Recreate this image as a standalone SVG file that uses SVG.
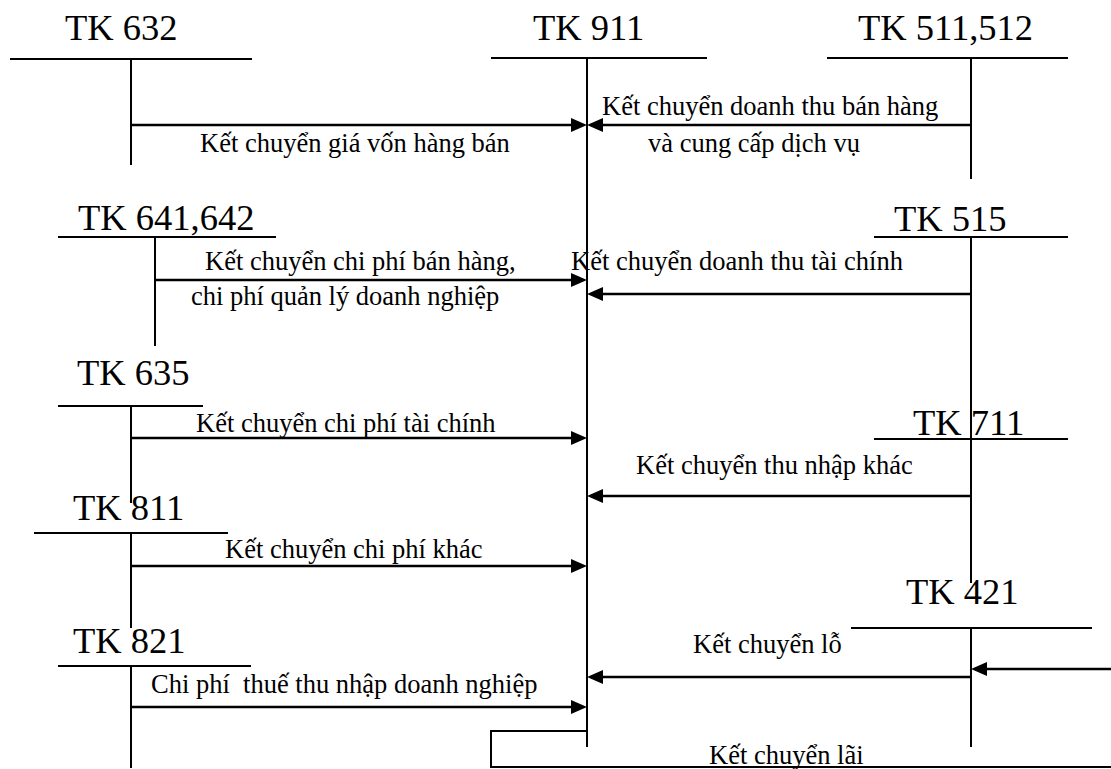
<svg xmlns="http://www.w3.org/2000/svg" width="1111" height="769" viewBox="0 0 1111 769">
<defs>
<style>
.acc{stroke:#000;stroke-width:2;fill:none}
.arr{stroke:#000;stroke-width:2.5;fill:none}
.t1{font-family:"Liberation Serif","Times New Roman",serif;font-size:36.5px;fill:#000}
.t2{font-family:"Liberation Serif","Times New Roman",serif;font-size:26.5px;fill:#000;white-space:pre}
</style>
<marker id="ah" markerUnits="userSpaceOnUse" markerWidth="16" markerHeight="14" refX="2" refY="7" orient="auto">
<path d="M0,0 L16,7 L0,14 z" fill="#000"/>
</marker>
</defs>
<rect x="0" y="0" width="1111" height="769" fill="#fff"/>
<g id="tk632">
<text class="t1" x="65" y="40">TK 632</text>
<path class="acc" d="M10,59 H252 M131,59 V165"/>
</g>
<g id="tk911">
<text class="t1" x="533" y="40">TK 911</text>
<path class="acc" d="M491,58 H707 M587,58 V747"/>
</g>
<g id="tk511">
<text class="t1" x="858" y="40">TK 511,512</text>
<path class="acc" d="M827,58 H1068 M971,58 V179"/>
</g>
<g id="tk641">
<text class="t1" x="78" y="230">TK 641,642</text>
<path class="acc" d="M58,237 H276 M155,237 V346"/>
</g>
<g id="tk515">
<text class="t1" x="894" y="231">TK 515</text>
<path class="acc" d="M874,237 H1068 M971,237 V439"/>
</g>
<g id="tk635">
<text class="t1" x="77" y="385">TK 635</text>
<path class="acc" d="M58,406 H203 M131,406 V503"/>
</g>
<g id="tk711">
<text class="t1" x="913" y="435">TK 711</text>
<path class="acc" d="M874,439 H1068 M971,439 V583"/>
</g>
<g id="tk811">
<text class="t1" x="73" y="520">TK 811</text>
<path class="acc" d="M34,533 H228 M131,533 V628"/>
</g>
<g id="tk821">
<text class="t1" x="73" y="653">TK 821</text>
<path class="acc" d="M58,666 H251 M131,666 V768"/>
</g>
<g id="tk421">
<text class="t1" x="906" y="604">TK 421</text>
<path class="acc" d="M851,628 H1092 M971,628 V747"/>
</g>
<g id="connectors">
<line class="arr" x1="131" y1="125" x2="573" y2="125" marker-end="url(#ah)"/>
<line class="arr" x1="971" y1="125" x2="601" y2="125" marker-end="url(#ah)"/>
<line class="arr" x1="155" y1="280" x2="573" y2="280" marker-end="url(#ah)"/>
<line class="arr" x1="971" y1="294" x2="601" y2="294" marker-end="url(#ah)"/>
<line class="arr" x1="131" y1="438" x2="573" y2="438" marker-end="url(#ah)"/>
<line class="arr" x1="971" y1="496" x2="601" y2="496" marker-end="url(#ah)"/>
<line class="arr" x1="131" y1="566" x2="573" y2="566" marker-end="url(#ah)"/>
<line class="arr" x1="131" y1="707" x2="573" y2="707" marker-end="url(#ah)"/>
<line class="arr" x1="971" y1="677" x2="601" y2="677" marker-end="url(#ah)"/>
<line class="arr" x1="1111" y1="669" x2="985" y2="669" marker-end="url(#ah)"/>
<path class="acc" d="M587,731 H491 V767 H1111"/>
</g>
<g id="labels">
<text class="t2" x="200" y="152">Kết chuyển giá vốn hàng bán</text>
<text class="t2" x="602" y="115">Kết chuyển doanh thu bán hàng</text>
<text class="t2" x="648" y="152">và cung cấp dịch vụ</text>
<text class="t2" x="205" y="270">Kết chuyển chi phí bán hàng,</text>
<text class="t2" x="191" y="305">chi phí quản lý doanh nghiệp</text>
<text class="t2" x="571" y="270">Kết chuyển doanh thu tài chính</text>
<text class="t2" x="196" y="432">Kết chuyển chi phí tài chính</text>
<text class="t2" x="636" y="474">Kết chuyển thu nhập khác</text>
<text class="t2" x="225" y="558">Kết chuyển chi phí khác</text>
<text class="t2" x="151" y="693">Chi phí  thuế thu nhập doanh nghiệp</text>
<text class="t2" x="693" y="653">Kết chuyển lỗ</text>
<text class="t2" x="709" y="764">Kết chuyển lãi</text>
</g>
</svg>
